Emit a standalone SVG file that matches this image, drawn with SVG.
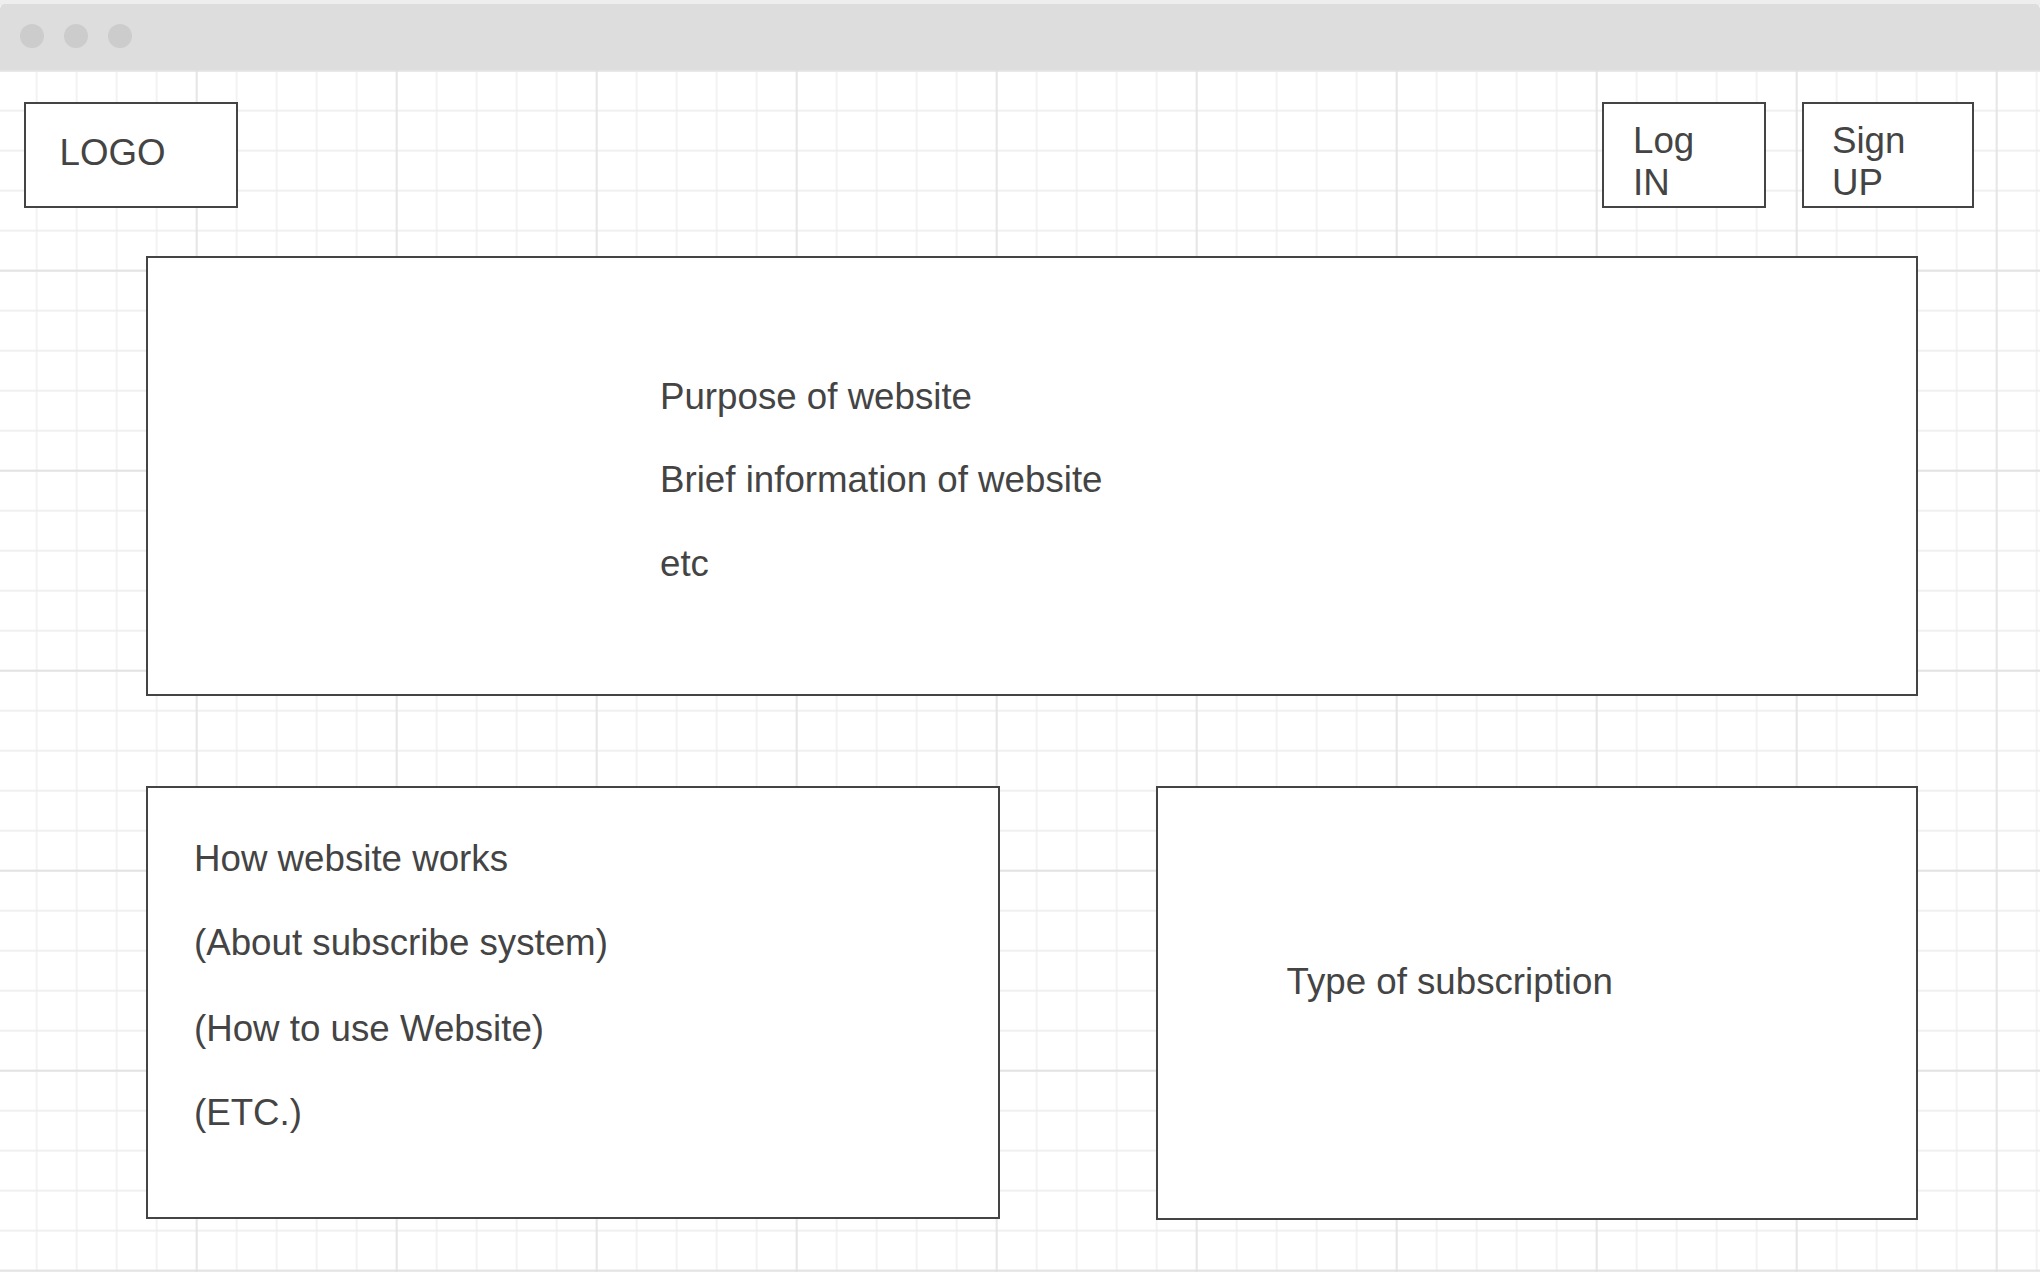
<svg xmlns="http://www.w3.org/2000/svg" width="2040" height="1272" viewBox="0 0 2040 1272">
<style>
.box{fill:#ffffff;stroke:#444444;stroke-width:2}
.t{font-family:"Liberation Sans",Arial,sans-serif;font-size:36.7px;fill:#444444}
.dot{fill:#cccccc}
</style>
<defs>
<pattern id="minor" patternUnits="userSpaceOnUse" x="16.7" y="90.7" width="40" height="40">
<path d="M20 0V40M0 20H40" stroke="#ececec" stroke-width="1.3" fill="none"/>
</pattern>
<pattern id="major" patternUnits="userSpaceOnUse" x="96.7" y="170.7" width="200" height="200">
<path d="M100 0V200M0 100H200" stroke="#e0e0e0" stroke-width="1.3" fill="none"/>
</pattern>
</defs>
<rect x="0" y="0" width="2040" height="1272" fill="#ffffff"/>
<rect x="0" y="70" width="2040" height="1202" fill="url(#minor)"/>
<rect x="0" y="70" width="2040" height="1202" fill="url(#major)"/>
<g id="titlebar">
<rect x="0" y="0" width="2040" height="6" fill="#eeeeee"/>
<rect x="0" y="4" width="2040" height="66" rx="5" fill="#dddddd"/>
<rect x="0" y="20" width="2040" height="50" fill="#dddddd"/>
<circle class="dot" cx="32" cy="36" r="12"/>
<circle class="dot" cx="76" cy="36" r="12"/>
<circle class="dot" cx="120" cy="36" r="12"/>
</g>
<g id="logo">
<rect class="box" x="25" y="103" width="212" height="104"/>
<text class="t" x="59.5" y="164.5">LOGO</text>
</g>
<g id="login">
<rect class="box" x="1603" y="103" width="162" height="104"/>
<text class="t" x="1633" y="153.2">Log</text>
<text class="t" x="1633" y="194.7">IN</text>
</g>
<g id="signup">
<rect class="box" x="1803" y="103" width="170" height="104"/>
<text class="t" x="1832" y="153.2">Sign</text>
<text class="t" x="1832" y="194.7">UP</text>
</g>
<g id="purpose">
<rect class="box" x="147" y="257" width="1770" height="438"/>
<text class="t" x="660" y="409">Purpose of website</text>
<text class="t" x="660" y="492.4">Brief information of website</text>
<text class="t" x="660" y="575.7">etc</text>
</g>
<g id="how-it-works">
<rect class="box" x="147" y="787" width="852" height="431"/>
<text class="t" x="194" y="871.4">How website works</text>
<text class="t" x="194" y="954.7">(About subscribe system)</text>
<text class="t" x="194" y="1040.5">(How to use Website)</text>
<text class="t" x="194" y="1124.5">(ETC.)</text>
</g>
<g id="subscription">
<rect class="box" x="1157" y="787" width="760" height="432"/>
<text class="t" x="1286.5" y="994">Type of subscription</text>
</g>
<g id="connectors"/>
</svg>
